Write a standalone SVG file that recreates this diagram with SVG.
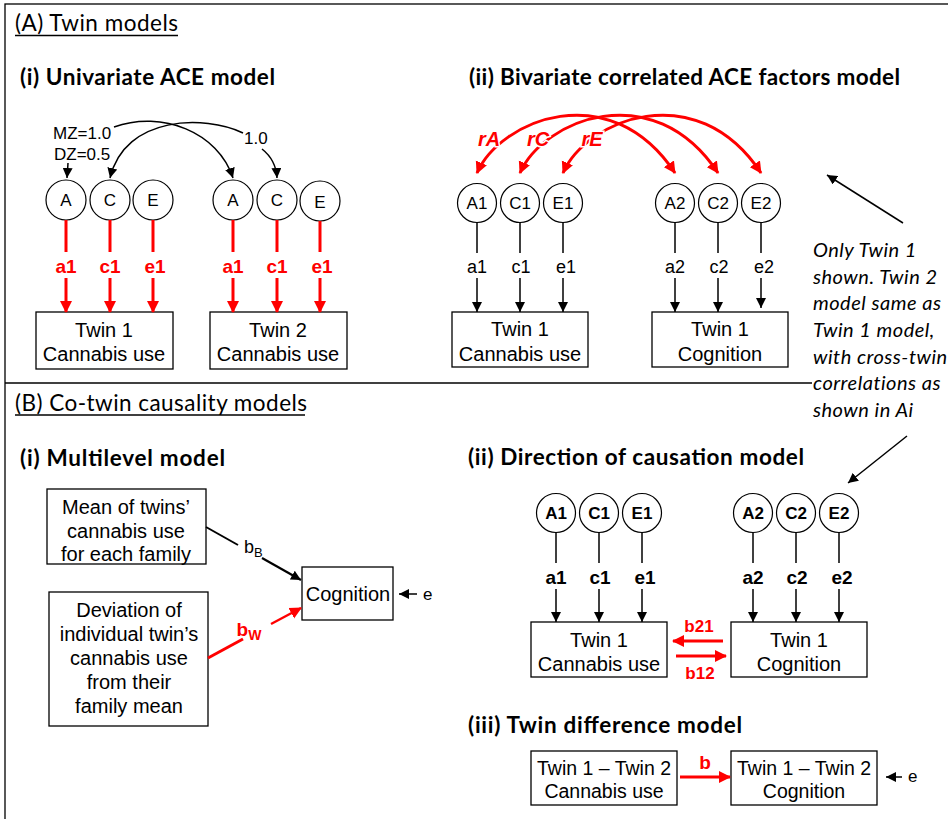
<svg xmlns="http://www.w3.org/2000/svg" width="948" height="819" viewBox="0 0 948 819">
<defs>
<style>
.box{fill:#fff;stroke:#000;stroke-width:1.3}
.circ{fill:#fff;stroke:#000;stroke-width:1.2}
.t{font-family:"Liberation Sans",Arial,sans-serif;font-size:20px;fill:#000;text-anchor:middle}
.cl{font-family:"Liberation Sans",Arial,sans-serif;font-size:17px;fill:#000;text-anchor:middle}
.cb{font-family:"Liberation Sans",Arial,sans-serif;font-size:17px;font-weight:bold;fill:#000;text-anchor:middle}
.lbl{font-family:"Liberation Sans",Arial,sans-serif;font-size:18px;fill:#000;text-anchor:middle}
.lblb{font-family:"Liberation Sans",Arial,sans-serif;font-size:19px;font-weight:bold;fill:#000;text-anchor:middle}
.rl{font-family:"Liberation Sans",Arial,sans-serif;font-size:19px;font-weight:bold;fill:#ff0000;text-anchor:middle}
.ri{font-family:"Liberation Sans",Arial,sans-serif;font-size:20px;font-weight:bold;font-style:italic;fill:#ff0000;stroke:#fff;stroke-width:3;paint-order:stroke;text-anchor:middle}
.sm{font-family:"Liberation Sans",Arial,sans-serif;font-size:17px;fill:#000}
.h1{font-family:Lato,"Open Sans",sans-serif;font-size:22.5px;fill:#000}
.h2{font-family:Lato,"Open Sans",sans-serif;font-size:22.5px;font-weight:bold;fill:#000}
.it{font-family:Lato,"Open Sans",sans-serif;font-size:20px;letter-spacing:0.5px;font-style:italic;fill:#000}
.bl{stroke:#000;stroke-width:1.5;fill:none}
.rd{stroke:#ff0000;stroke-width:3;fill:none}
</style>
<marker id="ab" markerUnits="userSpaceOnUse" markerWidth="10" markerHeight="10" refX="10" refY="5" orient="auto" viewBox="0 0 10 10"><path d="M0,0 L10,5 L0,10 z" fill="#000"/></marker>
<marker id="ar" markerUnits="userSpaceOnUse" markerWidth="13" markerHeight="13" refX="11" refY="6.5" orient="auto" viewBox="0 0 13 13"><path d="M0,0.5 L12,6.5 L0,12.5 z" fill="#ff0000"/></marker>
<marker id="ars" markerUnits="userSpaceOnUse" markerWidth="13" markerHeight="13" refX="11" refY="6.5" orient="auto-start-reverse" viewBox="0 0 13 13"><path d="M0,0.5 L12,6.5 L0,12.5 z" fill="#ff0000"/></marker>
</defs>
<rect x="5" y="4" width="960" height="830" fill="#fff" stroke="#000" stroke-width="1.3"/>
<line x1="5" y1="383" x2="812" y2="383" stroke="#000" stroke-width="1.3"/>

<g id="titles">
<text class="h1" x="15" y="31" textLength="163">(A) Twin models</text>
<line x1="15" y1="35.5" x2="178" y2="35.5" stroke="#000" stroke-width="1.3"/>
<text class="h2" x="20" y="85" textLength="255">(i) Univariate ACE model</text>
<text class="h2" x="469" y="85" textLength="431">(ii) Bivariate correlated ACE factors model</text>
<text class="h1" x="15" y="411" textLength="292">(B) Co-twin causality models</text>
<line x1="15" y1="415" x2="305" y2="415" stroke="#000" stroke-width="1.3"/>
<text class="h2" x="20" y="466" textLength="205">(i) Multilevel model</text>
<text class="h2" x="468" y="465" textLength="336">(ii) Direction of causation model</text>
<text class="h2" x="468" y="733" textLength="274">(iii) Twin difference model</text>
</g>

<g id="note">
<text class="it" x="813" y="257">Only Twin 1</text>
<text class="it" x="813" y="284">shown. Twin 2</text>
<text class="it" x="813" y="310">model same as</text>
<text class="it" x="813" y="337">Twin 1 model,</text>
<text class="it" x="813" y="364">with cross-twin</text>
<text class="it" x="813" y="390">correlations as</text>
<text class="it" x="813" y="417">shown in Ai</text>
</g>

<!-- A(i) nodes -->
<g id="Ai-A1"><circle class="circ" cx="66" cy="200" r="20"/><text class="cl" x="66" y="206">A</text></g>
<g id="Ai-C1"><circle class="circ" cx="110" cy="200" r="20"/><text class="cl" x="110" y="206">C</text></g>
<g id="Ai-E1"><circle class="circ" cx="153" cy="200" r="20"/><text class="cl" x="153" y="206">E</text></g>
<g id="Ai-A2"><circle class="circ" cx="233" cy="200" r="20"/><text class="cl" x="233" y="206">A</text></g>
<g id="Ai-C2"><circle class="circ" cx="277" cy="200" r="20"/><text class="cl" x="277" y="206">C</text></g>
<g id="Ai-E2"><circle class="circ" cx="320" cy="201" r="20"/><text class="cl" x="320" y="208">E</text></g>
<g id="Ai-T1"><rect class="box" x="36" y="312" width="137" height="57"/><text class="t" x="104" y="337">Twin 1</text><text class="t" x="104" y="361">Cannabis use</text></g>
<g id="Ai-T2"><rect class="box" x="210" y="312" width="137" height="57"/><text class="t" x="278" y="337">Twin 2</text><text class="t" x="278" y="361">Cannabis use</text></g>

<!-- A(ii) nodes -->
<g id="Aii-A1"><circle class="circ" cx="477" cy="203" r="19.5"/><text class="cl" x="477" y="209">A1</text></g>
<g id="Aii-C1"><circle class="circ" cx="520" cy="203" r="19.5"/><text class="cl" x="520" y="209">C1</text></g>
<g id="Aii-E1"><circle class="circ" cx="563" cy="203" r="19.5"/><text class="cl" x="563" y="209">E1</text></g>
<g id="Aii-A2"><circle class="circ" cx="675" cy="203" r="19.5"/><text class="cl" x="675" y="209">A2</text></g>
<g id="Aii-C2"><circle class="circ" cx="718" cy="203" r="19.5"/><text class="cl" x="718" y="209">C2</text></g>
<g id="Aii-E2"><circle class="circ" cx="761" cy="203" r="19.5"/><text class="cl" x="761" y="209">E2</text></g>
<g id="Aii-T1"><rect class="box" x="452" y="312" width="136" height="55"/><text class="t" x="520" y="336">Twin 1</text><text class="t" x="520" y="361">Cannabis use</text></g>
<g id="Aii-T2"><rect class="box" x="652" y="312" width="136" height="55"/><text class="t" x="720" y="336">Twin 1</text><text class="t" x="720" y="361">Cognition</text></g>

<!-- B(i) nodes -->
<g id="Bi-mean"><rect class="box" x="47" y="489" width="159" height="75"/><text class="t" x="126" y="514">Mean of twins’</text><text class="t" x="126" y="538">cannabis use</text><text class="t" x="126" y="561">for each family</text></g>
<g id="Bi-dev"><rect class="box" x="49" y="592" width="159" height="134"/><text class="t" x="129" y="617">Deviation of</text><text class="t" x="129" y="641">individual twin’s</text><text class="t" x="129" y="665">cannabis use</text><text class="t" x="129" y="689">from their</text><text class="t" x="129" y="713">family mean</text></g>
<g id="Bi-cog"><rect class="box" x="302" y="567" width="91" height="53"/><text class="t" x="348" y="601">Cognition</text></g>

<!-- B(ii) nodes -->
<g id="Bii-A1"><circle class="circ" cx="556" cy="513" r="19.5"/><text class="cb" x="556" y="519">A1</text></g>
<g id="Bii-C1"><circle class="circ" cx="599" cy="513" r="19.5"/><text class="cb" x="599" y="519">C1</text></g>
<g id="Bii-E1"><circle class="circ" cx="642" cy="513" r="19.5"/><text class="cb" x="642" y="519">E1</text></g>
<g id="Bii-A2"><circle class="circ" cx="753" cy="513" r="19.5"/><text class="cb" x="753" y="519">A2</text></g>
<g id="Bii-C2"><circle class="circ" cx="796" cy="513" r="19.5"/><text class="cb" x="796" y="519">C2</text></g>
<g id="Bii-E2"><circle class="circ" cx="839" cy="513" r="19.5"/><text class="cb" x="839" y="519">E2</text></g>
<g id="Bii-T1"><rect class="box" x="531" y="622" width="136" height="55"/><text class="t" x="599" y="647">Twin 1</text><text class="t" x="599" y="671">Cannabis use</text></g>
<g id="Bii-T2"><rect class="box" x="731" y="622" width="136" height="55"/><text class="t" x="799" y="647">Twin 1</text><text class="t" x="799" y="671">Cognition</text></g>

<!-- B(iii) nodes -->
<g id="Biii-T1"><rect class="box" x="531" y="751" width="146" height="54"/><text class="t" x="604" y="775" style="font-size:19.5px">Twin 1 – Twin 2</text><text class="t" x="604" y="798" style="font-size:19.5px">Cannabis use</text></g>
<g id="Biii-T2"><rect class="box" x="731" y="751" width="146" height="54"/><text class="t" x="804" y="775" style="font-size:19.5px">Twin 1 – Twin 2</text><text class="t" x="804" y="798" style="font-size:19.5px">Cognition</text></g>

<g id="connectors">
<!-- A(i) cross-twin correlations -->
<path class="bl" d="M114 127 C162 110 218 132 233 178" marker-end="url(#ab)"/>
<path class="bl" d="M243 133 C205 115 125 115 110 178" marker-end="url(#ab)"/>
<path class="bl" d="M262 149 Q276 160 277 178" marker-end="url(#ab)"/>
<path class="bl" d="M68 163 L67 178" marker-end="url(#ab)"/>
<!-- A(i) red paths -->
<line class="rd" x1="66" y1="220" x2="66" y2="252"/><line class="rd" x1="66" y1="278" x2="66" y2="312" marker-end="url(#ar)"/>
<line class="rd" x1="110" y1="220" x2="110" y2="252"/><line class="rd" x1="110" y1="278" x2="110" y2="312" marker-end="url(#ar)"/>
<line class="rd" x1="153" y1="220" x2="153" y2="252"/><line class="rd" x1="153" y1="278" x2="153" y2="312" marker-end="url(#ar)"/>
<line class="rd" x1="233" y1="220" x2="233" y2="252"/><line class="rd" x1="233" y1="278" x2="233" y2="312" marker-end="url(#ar)"/>
<line class="rd" x1="277" y1="220" x2="277" y2="252"/><line class="rd" x1="277" y1="278" x2="277" y2="312" marker-end="url(#ar)"/>
<line class="rd" x1="320" y1="221" x2="320" y2="252"/><line class="rd" x1="320" y1="278" x2="320" y2="312" marker-end="url(#ar)"/>
<!-- A(ii) red correlations (double-headed) -->
<path class="rd" d="M477 173 C500 120 610 75 675 173" marker-start="url(#ars)" marker-end="url(#ar)"/>
<path class="rd" d="M520 173 C543 120 653 75 718 173" marker-start="url(#ars)" marker-end="url(#ar)"/>
<path class="rd" d="M563 173 C586 120 696 75 761 173" marker-start="url(#ars)" marker-end="url(#ar)"/>
<!-- A(ii) black paths -->
<line class="bl" x1="477" y1="222" x2="477" y2="253"/><line class="bl" x1="477" y1="278" x2="477" y2="312" marker-end="url(#ab)"/>
<line class="bl" x1="520" y1="222" x2="520" y2="253"/><line class="bl" x1="520" y1="278" x2="520" y2="312" marker-end="url(#ab)"/>
<line class="bl" x1="563" y1="222" x2="563" y2="253"/><line class="bl" x1="563" y1="278" x2="563" y2="312" marker-end="url(#ab)"/>
<line class="bl" x1="675" y1="222" x2="675" y2="253"/><line class="bl" x1="675" y1="278" x2="675" y2="312" marker-end="url(#ab)"/>
<line class="bl" x1="718" y1="222" x2="718" y2="253"/><line class="bl" x1="718" y1="278" x2="718" y2="312" marker-end="url(#ab)"/>
<line class="bl" x1="761" y1="222" x2="761" y2="253"/><line class="bl" x1="761" y1="278" x2="761" y2="308" marker-end="url(#ab)"/>
<!-- note pointers -->
<line class="bl" x1="903" y1="223" x2="827" y2="175" marker-end="url(#ab)"/>
<line class="bl" x1="907" y1="436" x2="848" y2="483" marker-end="url(#ab)"/>
<!-- B(i) -->
<line x1="206" y1="527" x2="238" y2="545" stroke="#000" stroke-width="2"/>
<line x1="262" y1="558" x2="301" y2="580" stroke="#000" stroke-width="2.2" marker-end="url(#ab)"/>
<line class="rd" x1="208" y1="658" x2="243" y2="639"/>
<line class="rd" x1="271" y1="624" x2="301" y2="608" marker-end="url(#ar)" style="stroke-width:2.5"/>
<line class="bl" x1="417" y1="594" x2="399" y2="594" marker-end="url(#ab)"/>
<!-- B(ii) -->
<line class="bl" x1="556" y1="533" x2="556" y2="563"/><line class="bl" x1="556" y1="589" x2="556" y2="622" marker-end="url(#ab)"/>
<line class="bl" x1="599" y1="533" x2="599" y2="563"/><line class="bl" x1="599" y1="589" x2="599" y2="622" marker-end="url(#ab)"/>
<line class="bl" x1="642" y1="533" x2="642" y2="563"/><line class="bl" x1="642" y1="589" x2="642" y2="622" marker-end="url(#ab)"/>
<line class="bl" x1="753" y1="533" x2="753" y2="563"/><line class="bl" x1="753" y1="589" x2="753" y2="622" marker-end="url(#ab)"/>
<line class="bl" x1="796" y1="533" x2="796" y2="563"/><line class="bl" x1="796" y1="589" x2="796" y2="622" marker-end="url(#ab)"/>
<line class="bl" x1="839" y1="533" x2="839" y2="563"/><line class="bl" x1="839" y1="589" x2="839" y2="622" marker-end="url(#ab)"/>
<line class="rd" x1="723" y1="641" x2="673" y2="641" marker-end="url(#ar)"/>
<line class="rd" x1="676" y1="656" x2="726" y2="656" marker-end="url(#ar)"/>
<!-- B(iii) -->
<line class="rd" x1="680" y1="777" x2="730" y2="777" marker-end="url(#ar)"/>
<line class="bl" x1="902" y1="777" x2="886" y2="777" marker-end="url(#ab)"/>
</g>

<g id="labels">
<text class="sm" x="53" y="139">MZ=1.0</text>
<text class="sm" x="54" y="160">DZ=0.5</text>
<text class="sm" x="244" y="144">1.0</text>
<text class="rl" x="66" y="273">a1</text><text class="rl" x="110" y="273">c1</text><text class="rl" x="155" y="273">e1</text>
<text class="rl" x="233" y="273">a1</text><text class="rl" x="277" y="273">c1</text><text class="rl" x="322" y="273">e1</text>
<text class="ri" x="489" y="146">rA</text>
<text class="ri" x="538" y="146">rC</text>
<text class="ri" x="592" y="146">rE</text>
<text class="lbl" x="477" y="273">a1</text><text class="lbl" x="521" y="273">c1</text><text class="lbl" x="566" y="273">e1</text>
<text class="lbl" x="675" y="273">a2</text><text class="lbl" x="719" y="273">c2</text><text class="lbl" x="764" y="273">e2</text>
<text class="sm" x="244" y="553" style="font-size:18px">b<tspan font-size="13" dy="4">B</tspan></text>
<text class="rl" x="249" y="636">b<tspan font-size="14" dy="4">W</tspan></text>
<text class="sm" x="423" y="600">e</text>
<text class="lblb" x="556" y="584">a1</text><text class="lblb" x="600" y="584">c1</text><text class="lblb" x="645" y="584">e1</text>
<text class="lblb" x="753" y="584">a2</text><text class="lblb" x="797" y="584">c2</text><text class="lblb" x="842" y="584">e2</text>
<text class="rl" x="699" y="632" style="font-size:17px">b21</text>
<text class="rl" x="700" y="679" style="font-size:17px">b12</text>
<text class="rl" x="705" y="769">b</text>
<text class="sm" x="908" y="782">e</text>
</g>
</svg>
